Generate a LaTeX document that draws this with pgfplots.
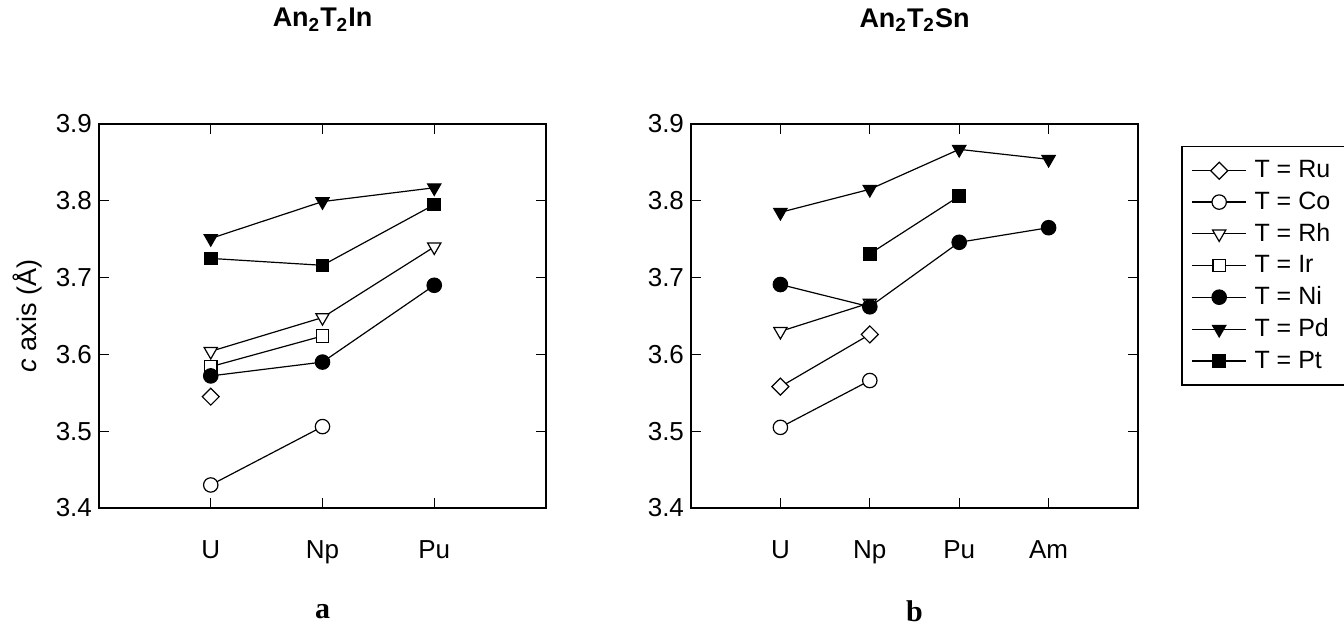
\documentclass[border=0pt]{standalone}
\usepackage{fontspec}
\setmainfont{Liberation Sans}
\newfontfamily\panelfont{Liberation Serif}
\usepackage{pgfplots}
\pgfplotsset{compat=1.18}

\pgfplotsset{
  panel/.style={
    scale only axis, width=223.5pt, height=192pt,
    ymin=3.4, ymax=3.9, ytick={3.4,3.5,3.6,3.7,3.8,3.9},
    axis line style={line width=0.75pt},
    every tick/.style={black, line width=0.6pt},
    major tick length=5pt,
    tick label style={font=\fontsize{13}{15}\selectfont},
    /pgf/number format/assume math mode=true,
    yticklabel style={/pgf/number format/.cd, fixed, fixed zerofill, precision=1},
    xticklabel style={yshift=-13pt},
    title style={font=\bfseries\fontsize{13.5}{15}\selectfont,
      at={(axis description cs:0.5,1.24)}, anchor=center},
    xlabel style={font=\panelfont\bfseries\fontsize{15}{17}\selectfont,
      at={(axis description cs:0.5,-0.27)}, anchor=center},
    legend image code/.code={
      \draw[mark repeat=2, mark phase=2] plot coordinates {(0cm,0cm) (0.47cm,0cm) (0.94cm,0cm)};},
  },
  base/.style={black, line width=0.6pt},
  ru/.style={base, mark=square*, mark size=3pt, mark options={rotate=45, fill=white, solid}},
  co/.style={base, mark=*, mark size=3.6pt, mark options={fill=white, solid}},
  rh/.style={base, mark=triangle*, mark size=3.8pt, mark options={rotate=180, fill=white, solid}},
  ir/.style={base, mark=square*, mark size=3.1pt, mark options={fill=white, solid}},
  ni/.style={base, mark=*, mark size=3.6pt, mark options={fill=black, solid}},
  pd/.style={base, mark=triangle*, mark size=3.8pt, mark options={rotate=180, fill=black, solid}},
  pt/.style={base, mark=square*, mark size=3.1pt, mark options={fill=black, solid}},
}

\begin{document}
\begin{tikzpicture}
\path[use as bounding box] (-49.5pt,-62pt) rectangle (622.5pt,254pt);

% a: An2T2In
\begin{axis}[panel, at={(0pt,0pt)},
  xmin=0, xmax=4, xtick={1,2,3}, xticklabels={U,Np,Pu},
  title={An\textsubscript{2}T\textsubscript{2}In},
  xlabel={a},
  ylabel={\textit{c} axis (Å)},
  ylabel style={font=\fontsize{13.5}{15}\selectfont,
    at={(axis description cs:-0.16,0.5)}, anchor=center},
]
\addplot[ru] coordinates {(1,3.545)};
\addplot[co] coordinates {(1,3.430) (2,3.506)};
\addplot[rh] coordinates {(1,3.604) (2,3.648) (3,3.740)};
\addplot[ir] coordinates {(1,3.584) (2,3.624)};
\addplot[ni] coordinates {(1,3.572) (2,3.590) (3,3.690)};
\addplot[pd] coordinates {(1,3.751) (2,3.799) (3,3.817)};
\addplot[pt] coordinates {(1,3.725) (2,3.716) (3,3.795)};
\end{axis}

% b: An2T2Sn
\begin{axis}[panel, at={(296pt,0pt)},
  xmin=0, xmax=5, xtick={1,2,3,4}, xticklabels={U,Np,Pu,Am},
  title={An\textsubscript{2}T\textsubscript{2}Sn},
  xlabel={b},
  legend cell align=left,
  legend style={at={(axis description cs:1.0964,0.943)}, anchor=north west,
    draw=black, line width=0.75pt, inner sep=5pt, row sep=1.5pt,
    font=\fontsize{12.5}{14}\selectfont,
    nodes={inner xsep=4pt}},
]
\addplot[ru] coordinates {(1,3.558) (2,3.626)};
\addplot[co] coordinates {(1,3.505) (2,3.566)};
\addplot[rh] coordinates {(1,3.630) (2,3.667)};
\addlegendimage{ir}
\addplot[ni] coordinates {(1,3.691) (2,3.662) (3,3.746) (4,3.765)};
\addplot[pd] coordinates {(1,3.785) (2,3.815) (3,3.867) (4,3.854)};
\addplot[pt] coordinates {(2,3.731) (3,3.806)};
\legend{T = Ru, T = Co, T = Rh, T = Ir, T = Ni, T = Pd, T = Pt}
\end{axis}
\end{tikzpicture}
\end{document}
